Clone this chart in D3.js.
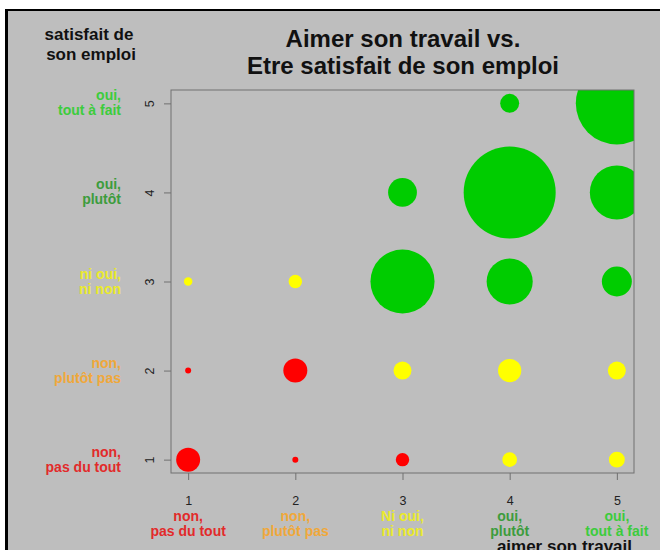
<!DOCTYPE html>
<html>
<head>
<meta charset="utf-8">
<script src="https://cdn.jsdelivr.net/npm/d3@7"></script>
<style>
  body { margin: 0; background: #fff; }
  svg { display: block; font-family: "Liberation Sans", Arial, sans-serif; }
</style>
</head>
<body>
<div id="chart"></div>
<script>
// levels (1..5) on both axes
const levels = [1, 2, 3, 4, 5];
const xLabels = ['non,\npas du tout', 'non,\nplutôt pas', 'Ni oui,\nni non', 'oui,\nplutôt', 'oui,\ntout à fait'];
const yLabels = ['non,\npas du tout', 'non,\nplutôt pas', 'ni oui,\nni non', 'oui,\nplutôt', 'oui,\ntout à fait'];

// counts per satisfaction level (rows), by "aimer son travail" level 1..5
const countsSat1 = [16, 1, 5, 6, 7];
const countsSat2 = [1, 16, 9, 15, 9];
const countsSat3 = [2, 5, 114, 59, 25];
const countsSat4 = [0, 0, 23, 235, 81];
const countsSat5 = [0, 0, 0, 10, 187];

// colour group per cell: n = red, m = yellow, p = green
const groupSat1 = ['n', 'n', 'n', 'm', 'm'];
const groupSat2 = ['n', 'n', 'm', 'm', 'm'];
const groupSat3 = ['m', 'm', 'p', 'p', 'p'];
const groupSat4 = ['p', 'p', 'p', 'p', 'p'];
const groupSat5 = ['p', 'p', 'p', 'p', 'p'];

const counts = [countsSat1, countsSat2, countsSat3, countsSat4, countsSat5];
const groups = [groupSat1, groupSat2, groupSat3, groupSat4, groupSat5];

const width = 660, height = 550;
const plot = {left: 171, right: 634, top: 90, bottom: 473};

const labelColors = ['#e22a2a', '#f0a83a', '#eaea2c', '#3c9c3c', '#3ccc3c'];

const svg = d3.select('#chart').append('svg')
  .attr('width', width)
  .attr('height', height);

// frame
svg.append('rect').attr('x', 5).attr('y', 9).attr('width', width - 5).attr('height', height - 9).attr('fill', '#000');
svg.append('rect').attr('x', 8).attr('y', 11).attr('width', width - 8).attr('height', height - 11).attr('fill', '#bebebe');

const x = d3.scaleLinear().domain([0.84, 5.16]).range([plot.left, plot.right]);
const y = d3.scaleLinear().domain([0.85, 5.15]).range([plot.bottom, plot.top]);
const allCounts = counts.flat();
const r = d3.scaleSqrt().domain([0, d3.max(allCounts)]).range([0, 46]);
const fill = d3.scaleOrdinal().domain(['n', 'm', 'p']).range(['#ff0000', '#ffff00', '#00cc00']);

svg.append('clipPath').attr('id', 'clip')
  .append('rect')
  .attr('x', plot.left).attr('y', plot.top)
  .attr('width', plot.right - plot.left).attr('height', plot.bottom - plot.top);

const cells = [];
counts.forEach((row, i) => {
  row.forEach((n, j) => {
    if (n > 0) cells.push({like: levels[j], sat: levels[i], n: n, g: groups[i][j]});
  });
});

svg.append('g')
  .attr('clip-path', 'url(#clip)')
  .selectAll('circle')
  .data(cells)
  .enter().append('circle')
  .attr('cx', d => x(d.like))
  .attr('cy', d => y(d.sat))
  .attr('r', d => r(d.n))
  .attr('fill', d => fill(d.g));

// plot box
svg.append('rect')
  .attr('x', plot.left).attr('y', plot.top)
  .attr('width', plot.right - plot.left).attr('height', plot.bottom - plot.top)
  .attr('fill', 'none')
  .attr('stroke', '#707070')
  .attr('stroke-width', 1);

// axes
const xAxis = svg.append('g')
  .attr('transform', `translate(0,${plot.bottom})`)
  .call(d3.axisBottom(x).tickValues(levels).tickSize(7).tickPadding(16).tickFormat(d3.format('d')));
xAxis.select('.domain').remove();
xAxis.selectAll('line').attr('stroke', '#707070');
xAxis.selectAll('text').attr('fill', '#222').style('font-size', '12.5px').style('font-family', '"Liberation Sans", Arial, sans-serif');

const yAxis = svg.append('g')
  .attr('transform', `translate(${plot.left},0)`)
  .call(d3.axisLeft(y).tickValues(levels).tickSize(7).tickFormat(d3.format('d')));
yAxis.select('.domain').remove();
yAxis.selectAll('line').attr('stroke', '#707070');
yAxis.selectAll('text')
  .attr('fill', '#222')
  .attr('transform', 'rotate(-90)')
  .attr('x', 0)
  .attr('y', -21)
  .attr('dy', null)
  .attr('dominant-baseline', 'central')
  .style('text-anchor', 'middle')
  .style('font-size', '12.5px')
  .style('font-family', '"Liberation Sans", Arial, sans-serif');

// category labels on y
const yCat = svg.append('g')
  .selectAll('text')
  .data(yLabels)
  .enter().append('text')
  .attr('text-anchor', 'end')
  .attr('font-weight', 'bold')
  .attr('font-size', '14px')
  .attr('fill', (d, i) => labelColors[i]);
yCat.each(function(d, i) {
  const t = d3.select(this);
  d.split('\n').forEach((line, k) => {
    t.append('tspan')
      .attr('x', 121)
      .attr('y', y(levels[i]) - 3 + k * 15)
      .text(line);
  });
});

// category labels on x
const xCat = svg.append('g')
  .selectAll('text')
  .data(xLabels)
  .enter().append('text')
  .attr('text-anchor', 'middle')
  .attr('font-weight', 'bold')
  .attr('font-size', '14px')
  .attr('fill', (d, i) => labelColors[i]);
xCat.each(function(d, i) {
  const t = d3.select(this);
  d.split('\n').forEach((line, k) => {
    t.append('tspan')
      .attr('x', x(levels[i]))
      .attr('y', 521 + k * 15)
      .text(line);
  });
});

// titles
const title = svg.append('text')
  .attr('text-anchor', 'middle')
  .attr('font-weight', 'bold')
  .attr('font-size', '24px')
  .attr('fill', '#111');
title.append('tspan').attr('x', 403).attr('y', 47).text('Aimer son travail vs.');
title.append('tspan').attr('x', 403).attr('y', 74).text('Etre satisfait de son emploi');

const yTitle = svg.append('text')
  .attr('text-anchor', 'middle')
  .attr('font-weight', 'bold')
  .attr('font-size', '17px')
  .attr('fill', '#111');
yTitle.append('tspan').attr('x', 89).attr('y', 40).text('satisfait de');
yTitle.append('tspan').attr('x', 91).attr('y', 60).text('son emploi');

// x title sits low and is partly cut by the bottom edge, as in the source
svg.append('text')
  .attr('x', 632)
  .attr('y', 552)
  .attr('text-anchor', 'end')
  .attr('font-weight', 'bold')
  .attr('font-size', '17px')
  .attr('fill', '#111')
  .text('aimer son travail');
</script>
</body>
</html>
